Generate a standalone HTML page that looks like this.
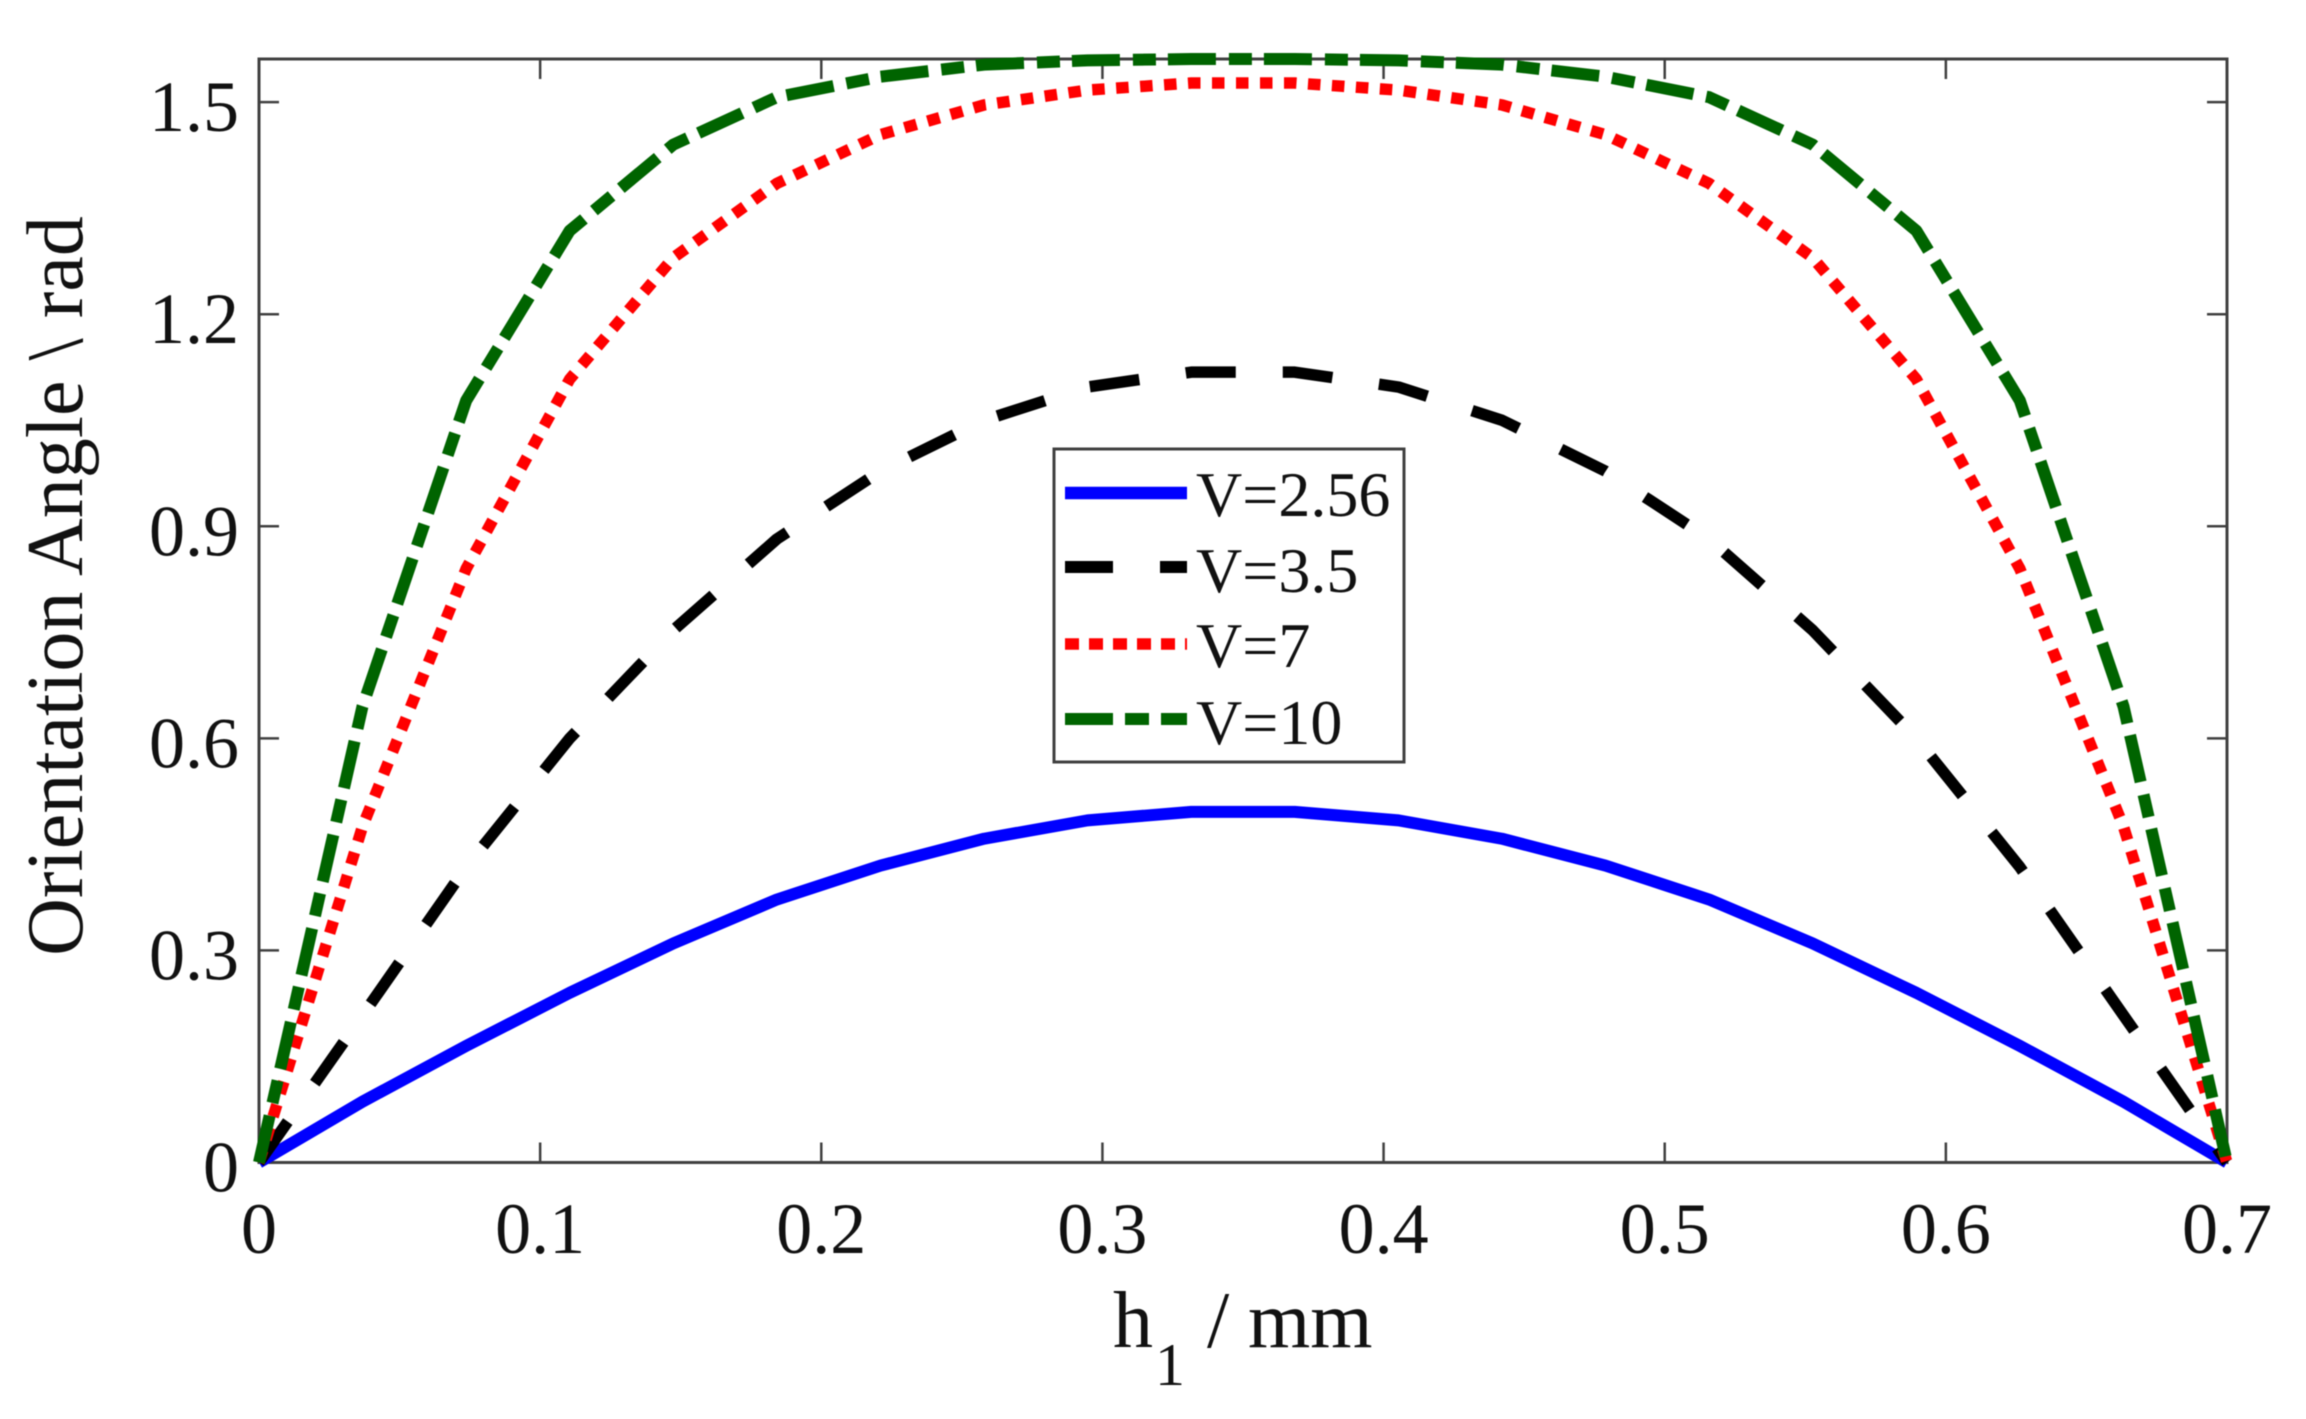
<!DOCTYPE html>
<html lang="en">
<head>
<meta charset="utf-8">
<title>Orientation Angle vs h1</title>
<style>
  html, body { margin: 0; padding: 0; background: #fff; }
  svg { display: block; filter: blur(0.6px); }
  text { font-family: "Liberation Serif", "Times New Roman", serif; fill: #111; }
</style>
</head>
<body>
<svg id="chart" xmlns="http://www.w3.org/2000/svg" width="2306" height="1419" viewBox="0 0 2306 1419">
  <rect x="259" y="59" width="1968" height="1103.5" fill="#fff"/>
  <g id="ticks"></g>
  <rect x="259" y="59" width="1968" height="1103.5" fill="none" stroke="#404040" stroke-width="3"/>
  <g id="tick-labels"></g>
  <g id="series"></g>
  <text transform="translate(82,586) rotate(-90)" text-anchor="middle" font-size="80">Orientation Angle \ rad</text>
  <g>
    <text x="1113" y="1347" font-size="80">h</text>
    <text x="1155" y="1385" font-size="60">1</text>
    <text x="1207" y="1347" font-size="80">/</text>
    <text x="1248" y="1347" font-size="80">mm</text>
  </g>
  <g>
    <rect x="1054" y="449" width="350" height="313" fill="#fff" stroke="#404040" stroke-width="3"/>
    <line x1="1065" x2="1187" y1="493" y2="493" stroke="#0000ff" stroke-width="12.5"/>
    <text x="1196" y="516" font-size="64">V=2.56</text>
    <line x1="1065" x2="1187" y1="567" y2="567" stroke="#000" stroke-width="12" stroke-dasharray="48 47"/>
    <text x="1196" y="592" font-size="64">V=3.5</text>
    <line x1="1065" x2="1187" y1="644" y2="644" stroke="#ff0000" stroke-width="11.5" stroke-dasharray="14 10"/>
    <text x="1196" y="667" font-size="64">V=7</text>
    <line x1="1065" x2="1187" y1="719" y2="719" stroke="#006400" stroke-width="12" stroke-dasharray="48 12 24 12"/>
    <text x="1196" y="744" font-size="64">V=10</text>
  </g>
</svg>
<script>
// Chart data
const h1Values = [0, 0.0368, 0.0737, 0.1105, 0.1474, 0.1842, 0.2211, 0.2579, 0.2947, 0.3316, 0.3684, 0.4053, 0.4421, 0.4789, 0.5158, 0.5526, 0.5895, 0.6263, 0.6632, 0.7];
const angleV256 = [0, 0.086, 0.165, 0.24, 0.31, 0.372, 0.42, 0.458, 0.484, 0.496, 0.496, 0.484, 0.458, 0.42, 0.372, 0.31, 0.24, 0.165, 0.086, 0];
const angleV35 = [0, 0.208, 0.418, 0.6, 0.753, 0.882, 0.978, 1.05, 1.097, 1.118, 1.118, 1.097, 1.05, 0.978, 0.882, 0.753, 0.6, 0.418, 0.208, 0];
const angleV7 = [0, 0.475, 0.84, 1.108, 1.28, 1.385, 1.454, 1.496, 1.517, 1.527, 1.527, 1.517, 1.496, 1.454, 1.385, 1.28, 1.108, 0.84, 0.475, 0];
const angleV10 = [0, 0.645, 1.078, 1.318, 1.44, 1.507, 1.536, 1.553, 1.559, 1.561, 1.561, 1.559, 1.553, 1.536, 1.507, 1.44, 1.318, 1.078, 0.645, 0];
const xTickValues = [0, 0.1, 0.2, 0.3, 0.4, 0.5, 0.6, 0.7];
const xTickLabels = ['0', '0.1', '0.2', '0.3', '0.4', '0.5', '0.6', '0.7'];
const yTickValues = [0, 0.3, 0.6, 0.9, 1.2, 1.5];
const yTickLabels = ['0', '0.3', '0.6', '0.9', '1.2', '1.5'];

const plotLeft = 259, plotRight = 2227, plotTop = 59, plotBottom = 1162.5;
const xMax = 0.7, yMax = 1.561, tickLength = 20;
const svgNS = 'http://www.w3.org/2000/svg';
const xScale = function (v) { return plotLeft + (v / xMax) * (plotRight - plotLeft); };
const yScale = function (v) { return plotBottom - (v / yMax) * (plotBottom - plotTop); };

function tickLine(x1, y1, x2, y2) {
  const el = document.createElementNS(svgNS, 'line');
  el.setAttribute('x1', x1);
  el.setAttribute('y1', y1);
  el.setAttribute('x2', x2);
  el.setAttribute('y2', y2);
  el.setAttribute('stroke', '#404040');
  el.setAttribute('stroke-width', '2.5');
  
  
  document.getElementById('ticks').appendChild(el);
}

function tickText(str, x, y, anchor, name) {
  const el = document.createElementNS(svgNS, 'text');
  el.setAttribute('x', x);
  el.setAttribute('y', y);
  el.setAttribute('text-anchor', anchor);
  el.setAttribute('font-size', '72');
  
  
  el.textContent = str;
  document.getElementById('tick-labels').appendChild(el);
}

xTickValues.forEach(function (v, i) {
  const x = xScale(v);
  if (i > 0 && i < xTickValues.length - 1) {
    tickLine(x, plotBottom, x, plotBottom - tickLength);
    tickLine(x, plotTop, x, plotTop + tickLength);
  }
  tickText(xTickLabels[i], x, 1253, 'middle', 'x-tick-label');
});

yTickValues.forEach(function (v, i) {
  const y = yScale(v);
  if (i > 0) {
    tickLine(plotLeft, y, plotLeft + tickLength, y);
    tickLine(plotRight, y, plotRight - tickLength, y);
  }
  tickText(yTickLabels[i], 239, y + 29, 'end', 'y-tick-label');
});

function drawSeries(values, color, width, dash, name) {
  let d = '';
  values.forEach(function (v, i) {
    d += (i === 0 ? 'M' : 'L') + xScale(h1Values[i]).toFixed(2) + ' ' + yScale(v).toFixed(2);
  });
  const el = document.createElementNS(svgNS, 'path');
  el.setAttribute('d', d);
  el.setAttribute('fill', 'none');
  el.setAttribute('stroke', color);
  el.setAttribute('stroke-width', width);
  el.setAttribute('stroke-linejoin', 'round');
  if (dash) { el.setAttribute('stroke-dasharray', dash); }
  
  
  document.getElementById('series').appendChild(el);
}

drawSeries(angleV256, '#0000ff', 12, '', 'series-v-2-56');
drawSeries(angleV35, '#000000', 11.5, '50 47', 'series-v-3-5');
drawSeries(angleV7, '#ff0000', 11.5, '12.5 11.5', 'series-v-7');
drawSeries(angleV10, '#006400', 12, '48 13 23 12', 'series-v-10');
</script>
</body>
</html>
